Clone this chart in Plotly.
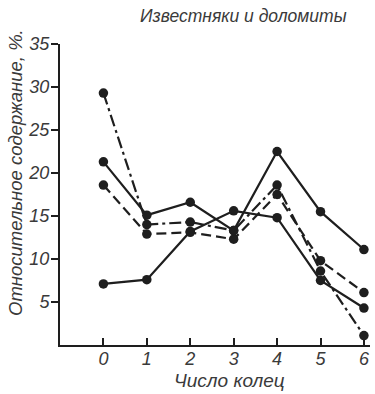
import plotly.graph_objects as go

rings = [0, 1, 2, 3, 4, 5, 6]
tick_labels = ["0", "1", "2", "3", "4", "5", "6"]
solid_a = [21.3, 15.1, 16.6, 13.3, 22.5, 15.5, 11.1]
solid_b = [7.1, 7.6, 13.2, 15.6, 14.8, 7.5, 4.3]
dashed = [18.6, 12.9, 13.1, 12.3, 17.5, 9.8, 6.1]
dashdot = [29.3, 14.0, 14.3, 13.3, 18.6, 8.6, 1.1]
y_ticks = [5, 10, 15, 20, 25, 30, 35]

INK = "#1e1e1e"
TXT = "#3a3a3a"
FONT = "Liberation Sans"

L, R, T, B = 60, 5, 44, 49
W, H = 375, 394
PW, PH = W - L - R, H - T - B

def px(xp):
    return (xp - L) / PW

def py(yp):
    return (H - B - yp) / PH

fig = go.Figure()
series = [
    (solid_a, "solid"),
    (solid_b, "solid"),
    (dashed, "10px,5px"),
    (dashdot, "12px,4px,3px,4px"),
]
for vals, dash in series:
    fig.add_trace(go.Scatter(
        x=rings, y=vals, mode="lines+markers",
        line=dict(color=INK, width=2.2, dash=dash),
        marker=dict(color=INK, size=9.5),
        showlegend=False, cliponaxis=False, hoverinfo="skip",
    ))

fig.update_layout(
    width=W, height=H,
    margin=dict(l=L, r=R, t=T, b=B, autoexpand=False),
    paper_bgcolor="white", plot_bgcolor="white",
    font=dict(family=FONT, color=TXT, style="italic"),
    xaxis=dict(
        range=[-1, 6.14], tickvals=rings, ticktext=tick_labels,
        ticks="inside", ticklen=7, tickwidth=1.5, tickcolor=INK,
        showline=True, linecolor=INK, linewidth=2, showgrid=False, zeroline=False,
        tickfont=dict(size=18, family=FONT, color=TXT, style="italic"),
        ticklabelstandoff=-4,
        automargin=False,
    ),
    yaxis=dict(
        range=[0, 35], tickvals=y_ticks,
        ticks="outside", ticklen=7, tickwidth=1.5, tickcolor=INK,
        showline=True, linecolor=INK, linewidth=2, showgrid=False, zeroline=False,
        tickfont=dict(size=18, family=FONT, color=TXT, style="italic"),
        ticklabelstandoff=-2,
        automargin=False,
    ),
    annotations=[
        dict(text="Известняки и доломиты", x=px(243), y=py(16), xref="paper", yref="paper",
             xanchor="center", yanchor="middle", showarrow=False,
             font=dict(size=17.5, family=FONT, color=TXT, style="italic")),
        dict(text="Число колец", x=px(229), y=py(381), xref="paper", yref="paper",
             xanchor="center", yanchor="middle", showarrow=False,
             font=dict(size=19, family=FONT, color=TXT, style="italic")),
        dict(text="Относительное содержание, %.", x=px(15), y=py(173), xref="paper", yref="paper",
             xanchor="center", yanchor="middle", showarrow=False, textangle=-90,
             font=dict(size=18.5, family=FONT, color=TXT, style="italic")),
    ],
)

fig.write_html("out.html", config={"displayModeBar": False},
               post_script="document.body.style.margin='0';document.body.style.overflow='hidden';")
